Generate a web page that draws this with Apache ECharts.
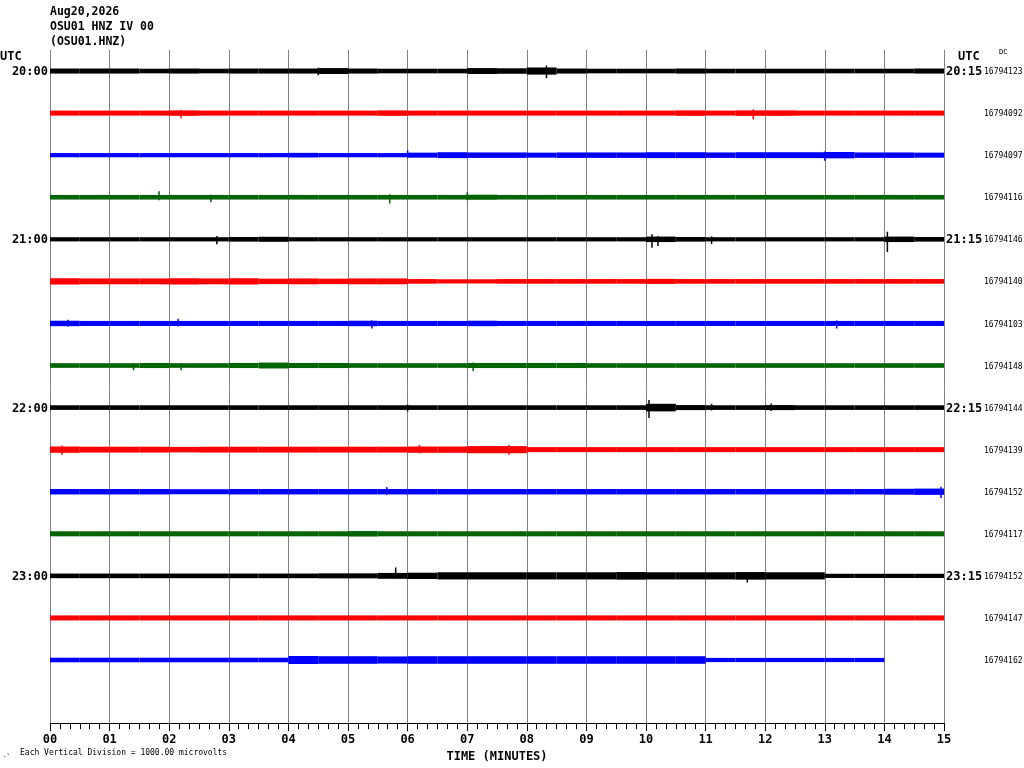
<!DOCTYPE html>
<html>
<head>
<meta charset="utf-8">
<script src="https://cdn.jsdelivr.net/npm/echarts@6/dist/echarts.min.js"></script>
<style>
    html, body { margin: 0; padding: 0; background: #fff; }
    #main { width: 1024px; height: 768px; }
</style>
</head>
<body>
<div id="main"></div>
<script>
var minuteLabels = ['00', '01', '02', '03', '04', '05', '06', '07', '08', '09', '10', '11', '12', '13', '14', '15'];
var hourLabels = ['20:00', '21:00', '22:00', '23:00'];
var endLabels = ['20:15', '21:15', '22:15', '23:15'];
var dcValues = [16794123, 16794092, 16794097, 16794116, 16794146, 16794140, 16794103, 16794148,
    16794144, 16794139, 16794152, 16794117, 16794152, 16794147, 16794162];
var traceColors = ['#000000', '#ff0000', '#0000ff', '#006400'];

// half amplitude of each trace (microvolts), one value per half minute
var amp0 = [60, 60, 60, 55, 60, 55, 60, 60, 60, 70, 60, 55, 55, 55, 70, 65, 85, 60, 55, 55, 55, 60, 55, 55, 55, 55, 55, 55, 55, 60];
var amp1 = [60, 60, 60, 60, 65, 60, 60, 60, 60, 60, 60, 65, 60, 60, 60, 60, 60, 60, 60, 60, 60, 65, 60, 65, 65, 60, 60, 60, 60, 60];
var amp2 = [50, 50, 50, 50, 50, 50, 50, 50, 55, 50, 50, 50, 60, 70, 65, 65, 60, 65, 65, 65, 70, 70, 65, 70, 70, 70, 75, 65, 65, 60];
var amp3 = [55, 55, 55, 55, 55, 55, 55, 55, 55, 55, 55, 55, 55, 55, 60, 55, 55, 55, 55, 55, 55, 55, 55, 55, 55, 55, 55, 55, 55, 55];
var amp4 = [50, 50, 50, 50, 50, 50, 55, 60, 50, 50, 50, 50, 50, 50, 50, 50, 50, 50, 50, 50, 65, 55, 50, 50, 50, 50, 50, 50, 65, 55];
var amp5 = [75, 70, 70, 70, 75, 70, 75, 65, 70, 65, 70, 70, 55, 50, 50, 55, 55, 55, 55, 55, 60, 55, 55, 55, 55, 55, 55, 55, 55, 55];
var amp6 = [65, 60, 60, 60, 60, 60, 60, 60, 60, 60, 65, 60, 60, 60, 65, 60, 60, 60, 60, 60, 60, 60, 60, 60, 60, 60, 60, 60, 60, 60];
var amp7 = [55, 55, 55, 60, 55, 55, 60, 70, 60, 60, 55, 55, 55, 55, 60, 60, 60, 60, 55, 55, 55, 55, 55, 55, 55, 55, 55, 55, 55, 55];
var amp8 = [55, 55, 55, 55, 55, 55, 55, 55, 55, 55, 55, 55, 55, 55, 55, 55, 55, 55, 55, 55, 90, 60, 55, 55, 60, 55, 55, 55, 55, 55];
var amp9 = [75, 70, 70, 70, 65, 70, 70, 70, 70, 70, 70, 70, 75, 75, 85, 85, 60, 60, 60, 60, 60, 60, 60, 60, 60, 60, 60, 60, 60, 60];
var amp10 = [65, 65, 65, 65, 60, 60, 65, 65, 65, 65, 65, 65, 65, 65, 65, 65, 65, 65, 65, 65, 65, 65, 65, 65, 65, 65, 65, 65, 70, 75];
var amp11 = [60, 60, 60, 60, 60, 60, 60, 60, 60, 60, 65, 60, 60, 60, 60, 60, 60, 60, 60, 60, 60, 60, 60, 60, 60, 60, 60, 60, 60, 60];
var amp12 = [55, 55, 55, 55, 55, 55, 55, 55, 55, 60, 60, 70, 75, 85, 85, 85, 85, 85, 85, 90, 85, 85, 85, 90, 85, 85, 50, 50, 50, 50];
var amp13 = [60, 60, 60, 60, 60, 60, 60, 60, 60, 60, 60, 60, 60, 60, 60, 60, 60, 60, 60, 60, 60, 60, 60, 60, 60, 60, 60, 60, 60, 60];
var amp14 = [55, 55, 55, 55, 55, 55, 55, 55, 95, 90, 90, 85, 90, 90, 90, 90, 90, 90, 90, 90, 90, 90, 50, 50, 50, 50, 50, 50];
var traceAmps = [amp0, amp1, amp2, amp3, amp4, amp5, amp6, amp7, amp8, amp9, amp10, amp11, amp12, amp13, amp14];

// single swings: [trace, minute, up uV, down uV]
var spikes = [
    [0, 8.33, 130, 170], [0, 4.5, 80, 100],
    [1, 2.2, 70, 120], [1, 11.8, 90, 150],
    [2, 6.0, 110, 50], [2, 13.0, 90, 130],
    [3, 1.83, 140, 70], [3, 2.7, 60, 120], [3, 5.7, 70, 150], [3, 7.0, 120, 70],
    [4, 2.8, 80, 120], [4, 10.1, 120, 200], [4, 10.2, 70, 160], [4, 11.1, 70, 110], [4, 14.05, 180, 300],
    [6, 0.3, 90, 70], [6, 2.15, 110, 70], [6, 5.4, 70, 120], [6, 13.2, 70, 120],
    [7, 1.4, 60, 110], [7, 2.2, 60, 110], [7, 7.1, 70, 130],
    [8, 6.0, 70, 90], [8, 10.05, 180, 250], [8, 11.1, 90, 70], [8, 12.1, 100, 80],
    [9, 0.2, 100, 120], [9, 6.2, 110, 90], [9, 7.7, 110, 120],
    [10, 5.65, 110, 70], [10, 14.95, 120, 150],
    [12, 5.8, 200, 70], [12, 11.7, 90, 160]
];

var uvPerDiv = 1000;
var binWidth = 0.5;
var monoFont = '"DejaVu Sans Mono", monospace';

var myChart = echarts.init(document.getElementById('main'));

function bandItem(params, api) {
    var t0 = api.value(0), tr = api.value(1), a = api.value(2);
    var c = tr + 0.5;
    var p0 = api.coord([t0, c - a / uvPerDiv]);
    var p1 = api.coord([t0 + binWidth, c + a / uvPerDiv]);
    return {
        type: 'rect',
        shape: {
            x: p0[0],
            y: Math.min(p0[1], p1[1]),
            width: p1[0] - p0[0],
            height: Math.abs(p1[1] - p0[1])
        },
        style: { fill: api.visual('color') }
    };
}

function spikeItem(params, api) {
    var t = api.value(1), tr = api.value(0);
    var c = tr + 0.5;
    var top = api.coord([t, c - api.value(2) / uvPerDiv]);
    var bot = api.coord([t, c + api.value(3) / uvPerDiv]);
    return {
        type: 'line',
        shape: { x1: top[0], y1: top[1], x2: bot[0], y2: bot[1] },
        style: { stroke: traceColors[tr % 4], lineWidth: 1.5 }
    };
}

var series = [];
traceAmps.forEach(function (amps, i) {
    series.push({
        type: 'custom',
        renderItem: bandItem,
        itemStyle: { color: traceColors[i % 4] },
        silent: true,
        data: amps.map(function (a, k) { return [k * binWidth, i, a]; })
    });
});
series.push({
    type: 'custom',
    renderItem: spikeItem,
    silent: true,
    data: spikes
});

var option = {
    animation: false,
    backgroundColor: '#fff',
    grid: { left: 50, right: 80, top: 50, bottom: 44 },
    xAxis: {
        type: 'value',
        min: 0,
        max: 15,
        interval: 1,
        name: 'TIME (MINUTES)',
        nameLocation: 'middle',
        nameGap: 19,
        nameTextStyle: { color: '#000', fontFamily: monoFont, fontWeight: 'bold', fontSize: 12 },
        axisLine: { onZero: false, lineStyle: { color: '#000', width: 1 } },
        axisTick: { length: 8, lineStyle: { color: '#000' } },
        minorTick: { show: true, splitNumber: 6, length: 6, lineStyle: { color: '#000' } },
        axisLabel: {
            margin: 11,
            color: '#000',
            fontFamily: monoFont,
            fontWeight: 'bold',
            fontSize: 12,
            formatter: function (v) { return minuteLabels[v]; }
        },
        splitLine: { show: true, lineStyle: { color: '#808080', width: 1 } }
    },
    yAxis: {
        type: 'value',
        min: 0,
        max: 16,
        inverse: true,
        show: false
    },
    series: series
};
myChart.setOption(option);

// header and row labels
var elements = [];
var header = ['Aug20,2026', 'OSU01 HNZ IV 00', '(OSU01.HNZ)'];
header.forEach(function (t, i) {
    elements.push({ type: 'text', left: 50, top: 6 + i * 15,
        style: { text: t, fill: '#000', font: 'bold 11.5px ' + monoFont } });
});
elements.push({ type: 'text', left: 0, top: 51, style: { text: 'UTC', fill: '#000', font: 'bold 12px ' + monoFont } });
elements.push({ type: 'text', left: 958, top: 51, style: { text: 'UTC', fill: '#000', font: 'bold 12px ' + monoFont } });
elements.push({ type: 'text', left: 999, top: 49, style: { text: 'DC', fill: '#000', font: '7px ' + monoFont } });

dcValues.forEach(function (v, i) {
    var y = myChart.convertToPixel({ gridIndex: 0 }, [0, i + 0.5])[1];
    elements.push({ type: 'text', x: 984, y: y + 1, style: { text: String(v), fill: '#000', font: '8px ' + monoFont, textVerticalAlign: 'middle' } });
    if (i % 4 === 0) {
        elements.push({ type: 'text', x: 48, y: y + 1, style: { text: hourLabels[i / 4], fill: '#000', font: 'bold 12px ' + monoFont, textAlign: 'right', textVerticalAlign: 'middle' } });
        elements.push({ type: 'text', x: 946, y: y + 1, style: { text: endLabels[i / 4], fill: '#000', font: 'bold 12px ' + monoFont, textVerticalAlign: 'middle' } });
    }
});
elements.push({ type: 'text', left: 20, top: 749, style: { text: 'Each Vertical Division = 1000.00 microvolts', fill: '#000', font: '8px ' + monoFont } });
elements.push({ type: 'text', left: 3, top: 752, style: { text: '.\u1D5B', fill: '#000', font: '6px ' + monoFont } });

myChart.setOption({ graphic: { elements: elements } });
</script>
</body>
</html>
